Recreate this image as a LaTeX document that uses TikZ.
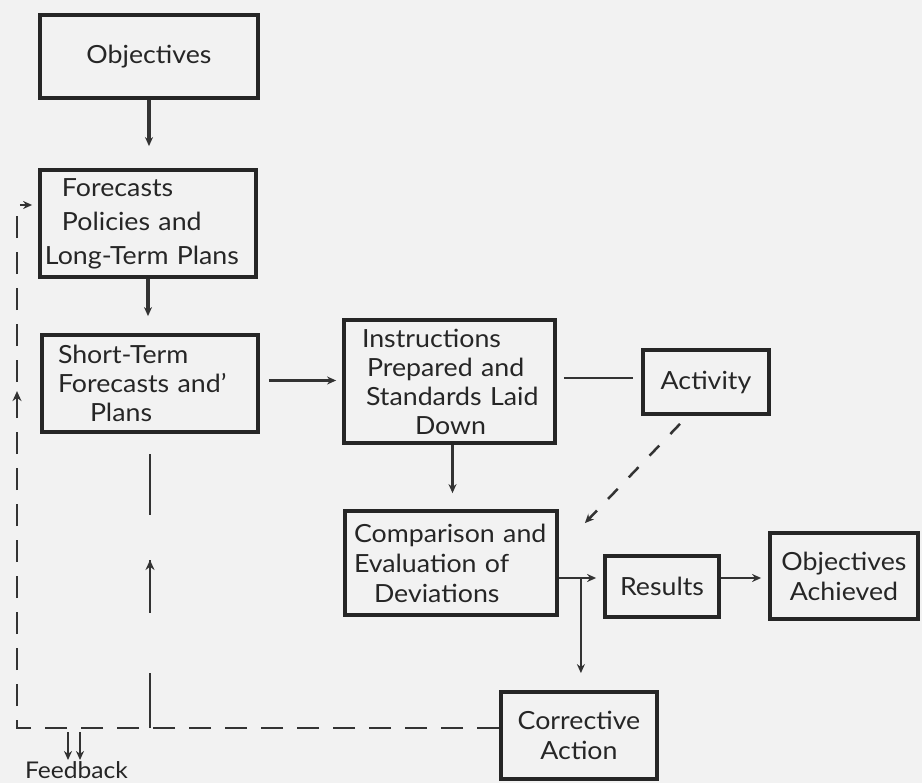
\documentclass[tikz,border=0pt]{standalone}
\usepackage{fontspec}
\setmainfont[FakeStretch=1.07]{Lato}
\usetikzlibrary{arrows.meta,calc,decorations.markings}
\begin{document}
\begin{tikzpicture}[x=1pt,y=-1pt,
  box/.style={draw=black!85,line width=3.8pt,rectangle,inner sep=0pt,
    font=\fontsize{25}{30}\selectfont,text=black!85},
  conn/.style={line width=2.2pt,draw=black!80,-{Stealth[length=9pt,width=8pt]}},
  thickconn/.style={conn,line width=3.5pt},
  fbline/.style={line width=2.5pt,draw=black!80,dash pattern=on 22pt off 14pt},
  upmark/.style={postaction={decorate,decoration={markings,
    mark=at position #1 with {\arrow{Stealth[length=10pt,width=9pt]}}}}}
]
\fill[black!5] (0,0) rectangle (922,783);
\useasboundingbox (0,0) rectangle (922,783);

\node[box,minimum width=218pt,minimum height=83pt] (obj) at (149,56.5) {Objectives};
\node[box,minimum width=216pt,minimum height=107pt,text width=206pt,align=left,
  font=\fontsize{25}{34}\selectfont] (fore) at (148,223.5)
  {\hspace*{17pt}Forecasts\\\hspace*{17pt}Policies and\\Long-Term Plans};
\node[box,minimum width=216pt,minimum height=97pt,text width=184pt,align=left,
  font=\fontsize{25}{29}\selectfont] (short) at (150,383.5)
  {Short-Term\\Forecasts and'\\\hspace*{32pt}Plans};
\node[box,minimum width=211pt,minimum height=123pt,text width=205pt,align=left,
  font=\fontsize{25}{29}\selectfont] (instr) at (449.5,381.5)
  {\hspace*{15pt}Instructions\\\hspace*{20pt}Prepared and\\\hspace*{19pt}Standards Laid\\\hspace*{68pt}Down};
\node[box,minimum width=126pt,minimum height=64pt] (act) at (706,382) {Activity};
\node[box,minimum width=212pt,minimum height=104pt,text width=206pt,align=left] (comp) at (451,563)
  {\hspace*{6pt}Comparison and\\\hspace*{6pt}Evaluation of\\\hspace*{26pt}Deviations};
\node[box,minimum width=114pt,minimum height=61pt] (res) at (662,586.5) {Results};
\node[box,minimum width=148pt,minimum height=86pt,align=center] (oa) at (844,576)
  {Objectives\\Achieved};
\node[box,minimum width=156pt,minimum height=87pt,align=center] (ca) at (579,735.5)
  {Corrective\\Action};
\node[font=\fontsize{23}{30}\selectfont,text=black!85,inner sep=0pt,anchor=base]
  (fbt) at (76.5,778) {Feedback};

\coordinate (ll) at (17,728);
\coordinate (lt) at (17,205);
\coordinate (br) at ($(comp.east)+(22,15)$);

\draw[thickconn,shorten >=22pt] (obj.south) -- (obj.south |- fore.north);
\draw[thickconn,shorten >=17pt] (fore.south) -- (fore.south |- short.north);
\draw[conn,shorten <=9pt,shorten >=6pt] ($(short.east)+(0,-3)$) -- ($(short.east -| instr.west)+(0,-3)$);
\draw[line width=2pt,draw=black!80,shorten <=7pt,shorten >=8pt]
  ($(instr.east)+(0,-3.5)$) -- ($(act.west)+(0,-4)$);
\draw[thickconn,line width=3pt,shorten >=16pt] ($(instr.south)+(3,0)$) -- ($(instr.south |- comp.north)+(3,0)$);
\draw[conn,line width=2.5pt,dash pattern=on 14pt off 16pt]
  ($(act.south)+(-26,8)$) -- ($(comp.north east)+(26,14)$);
\draw[conn,shorten >=7pt] ($(comp.east)+(0,15)$) -- ($(res.west)+(0,-8.5)$);
\draw[conn,shorten >=7pt] ($(res.east)+(0,-8.5)$) -- ($(oa.west)+(0,2)$);
\draw[conn,shorten >=17pt] (br) -- (br |- ca.north);

\draw[fbline,upmark=819pt,-{Stealth[length=9pt,width=8pt]},shorten >=6pt]
  ($(ca.west)+(0,-7.5)$) -- (ll) -- (lt) -- (lt -| fore.west);
\draw[line width=2.5pt,draw=black!80,
  dash pattern=on 55pt off 60pt on 53pt off 45pt on 80pt,upmark=168pt]
  (short.south |- ll) -- ($(short.south)+(0,20)$);
\draw[conn,line width=2pt] ($(ll)+(51,4)$) -- ($(ll)+(51,32)$);
\draw[conn,line width=2pt] ($(ll)+(63,4)$) -- ($(ll)+(63,32)$);
\end{tikzpicture}
\end{document}
